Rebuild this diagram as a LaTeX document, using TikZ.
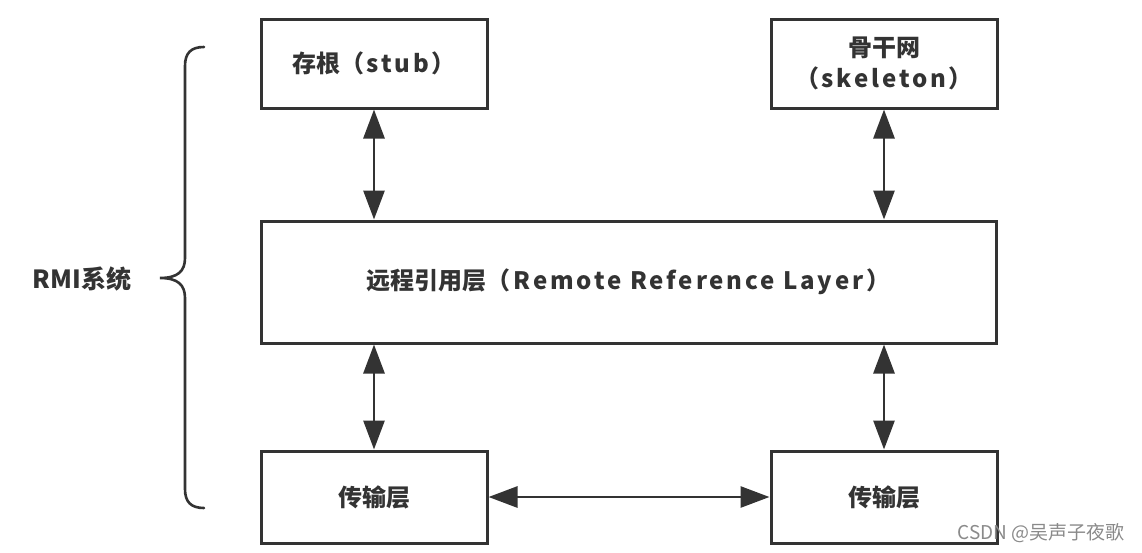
\documentclass[tikz,border=0pt]{standalone}
\usepackage{fontspec}
\setmainfont{Noto Sans CJK SC}
\usetikzlibrary{arrows.meta}
\definecolor{ink}{HTML}{333333}
\definecolor{wm}{HTML}{8A8A8A}
\newcommand{\lat}[1]{{\addfontfeature{LetterSpace=12}#1}}
\tikzset{
  box/.style={draw=ink, line width=3pt, fill=white, inner sep=0pt, align=center, text=ink, font=\fontsize{24}{31}\selectfont\bfseries},
  link/.style={draw=ink, line width=2.8pt, {Triangle[length=29pt,width=21pt]}-{Triangle[length=29pt,width=21pt]}},
  lbl/.style={text=ink, font=\fontsize{25}{28}\selectfont\bfseries},
}
\begin{document}
\begin{tikzpicture}[x=1pt,y=-1pt]
\useasboundingbox (0,0) rectangle (1142,552);
\node[box, minimum width=226pt, minimum height=89pt] (stub) at (374,63.5) {存根（\hspace{2pt}\lat{stub}\hspace{2pt}）};
\node[box, minimum width=226pt, minimum height=89pt] (skel) at (884,63.5) {骨干网\\（\hspace{2pt}\lat{skeleton}\hspace{2pt}）};
\node[box, minimum width=735pt, minimum height=122pt] (rrl) at (628.5,282) {远程引用层（\hspace{3pt}\lat{Remote Reference Layer}\hspace{3pt}）};
\node[box, minimum width=226pt, minimum height=92pt] (t1) at (374,497) {传输层};
\node[box, minimum width=226pt, minimum height=92pt] (t2) at (884,497) {传输层};
\draw[link] (stub.south) -- (stub.south |- rrl.north);
\draw[link] (skel.south) -- (skel.south |- rrl.north);
\draw[link] (rrl.south -| t1.north) -- (t1.north);
\draw[link] (rrl.south -| t2.north) -- (t2.north);
\draw[link] (t1.east) -- (t2.west);
\node[lbl] (rmi) at (82,279) {RMI系统};
\draw[ink, line width=2.6pt, line cap=round]
  (204,47) .. controls (191,47) and (185,53) .. (185,66) -- (185,258)
  .. controls (185,271) and (178,278) .. (160,278)
  .. controls (178,278) and (185,285) .. (185,298) -- (185,489)
  .. controls (185,502) and (191,508) .. (204,508);
\node[text=wm, font=\fontsize{19}{22}\selectfont, anchor=east] (wmk) at (1128,533) {CSDN @吴声子夜歌};
\end{tikzpicture}
\end{document}
